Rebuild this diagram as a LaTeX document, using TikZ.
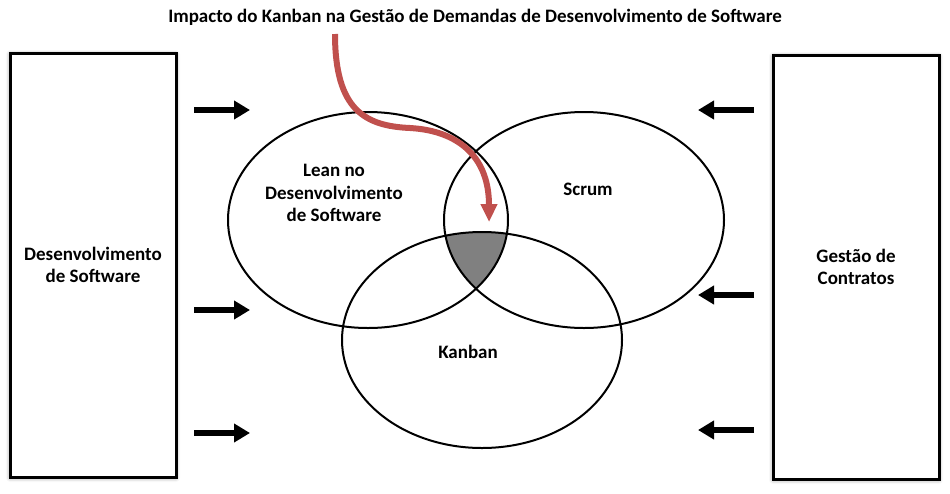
\documentclass[tikz,border=0pt]{standalone}
\usepackage{fontspec}
\setmainfont{Carlito}
\usepackage{tikz}
\usetikzlibrary{positioning, arrows.meta, calc, shadows.blur}

\definecolor{kanbanred}{RGB}{192,80,77}

\begin{document}
\begin{tikzpicture}[x=1pt, y=-1pt, >=Latex,
  font=\fontsize{19}{22.5}\selectfont\bfseries,
  sidebox/.style={draw, line width=3pt, rectangle, fill=white, minimum width=166pt, minimum height=424pt, align=center,
    blur shadow={shadow xshift=0pt, shadow yshift=-1pt, shadow blur radius=4pt, shadow opacity=45}},
  area/.style={draw, line width=2pt},
  label/.style={align=center, inner sep=0pt},
  push/.style={line width=6pt, -{Triangle[length=16pt, width=18pt]}},
  impact/.style={draw=kanbanred, line width=6pt, -{Triangle[length=18pt, width=16pt]}}]
  \useasboundingbox (0,0) rectangle (950,493);
  % caixas laterais
  \node[sidebox] (dev) at (93,265) {Desenvolvimento\\de Software};
  \node[sidebox] (ges) at (856,267) {Gestão de\\Contratos};
  % interseccao das tres areas
  \begin{scope}
    \clip (368,220) ellipse [x radius=140pt, y radius=108pt];
    \clip (584,220) ellipse [x radius=140pt, y radius=108pt];
    \fill[gray] (482,340) ellipse [x radius=140pt, y radius=108pt];
  \end{scope}
  \draw[area] (368,220) ellipse [x radius=140pt, y radius=108pt];
  \draw[area] (584,220) ellipse [x radius=140pt, y radius=108pt];
  \draw[area] (482,340) ellipse [x radius=140pt, y radius=108pt];
  \node[label] (lean) at (334,193) {Lean no\\Desenvolvimento\\de Software};
  \node[label] (scrum) at (588,189) {Scrum};
  \node[label] (kanban) at (468,352) {Kanban};
  % setas
  \foreach \y in {110,310,433}
    \draw[push] (194,\y) -- ++(56,0);
  \foreach \y in {110,295,430}
    \draw[push] (754,\y) -- ++(-56,0);
  % titulo e seta curva
  \node[label] (title) at (475,17) {Impacto do Kanban na Gestão de Demandas de Desenvolvimento de Software};
  \coordinate (src) at (335,34);
  \coordinate (hit) at (489,222);
  \draw[impact] (src) .. controls (335,110) and (365,126) .. (410,128)
    .. controls (462,131) and (489,160) .. (hit);
\end{tikzpicture}
\end{document}
